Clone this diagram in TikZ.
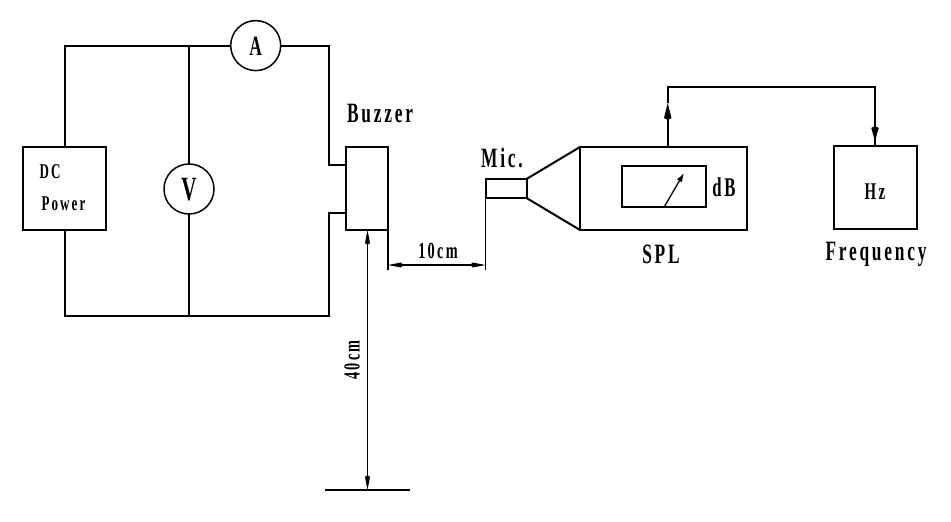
\documentclass[tikz,border=0pt]{standalone}
\usepackage{fontspec}
\usetikzlibrary{arrows.meta}
\newfontfamily\cadfont[LetterSpace=16]{Liberation Serif Bold}
\newcommand{\cadtext}[3][.62]{\scalebox{#1}[1]{\fontsize{#2}{#2}\cadfont #3}}
\tikzset{
  x=1pt,y=-1pt,
  wire/.style={line width=2pt,line join=miter},
  thin line/.style={line width=1.2pt},
  box/.style={draw,line width=2pt,inner sep=0pt,outer sep=0pt,minimum width=#1},
  meter/.style={draw,circle,line width=1.5pt,inner sep=0pt,outer sep=0pt,minimum size=50pt},
  lbl/.style={inner sep=0pt},
  head/.style={-{Kite[length=#1,width=7.5pt,inset=2pt]}},
  dimtips/.style={{Kite[length=15pt,width=5pt,inset=2pt]}-{Kite[length=15pt,width=5pt,inset=2pt]}},
}
\begin{document}
\begin{tikzpicture}
\useasboundingbox (0,0) rectangle (951,522);
% boxes
\node[box=83pt,minimum height=83pt] (power) at (64.5,188.5) {};
\node[box=42pt,minimum height=83pt] (buzzer) at (367,188.5) {};
\node[box=41pt,minimum height=19pt] (mic) at (506,188.5) {};
\node[box=167pt,minimum height=83pt] (spl) at (663.5,188.5) {};
\node[box=84pt,minimum height=41pt] (gauge) at (664,186.5) {};
\node[box=83pt,minimum height=83pt] (freq) at (875.5,187) {};
\node[meter] (A) at (255.7,45.6) {};
\node[meter] (V) at (189,189) {};
% named points
\coordinate (tl) at (power.north |- A);
\coordinate (tv) at (V |- A);
\coordinate (tr) at (329,45.6);
\coordinate (b1) at (329,165);
\coordinate (b2) at (329,212.7);
\coordinate (br) at (329,315.6);
\coordinate (bl) at (power.south |- br);
\coordinate (bv) at (V |- br);
% circuit
\draw[wire] (power.north) -- (tl) -- (A.west);
\draw[wire] (A.east) -- (tr) -- (b1) -- (b1 -| buzzer.west);
\draw[wire] (buzzer.west |- b2) -- (b2) -- (br) -- (bl) -- (power.south);
\draw[wire] (tv) -- (V.north);
\draw[wire] (V.south) -- (bv);
% horn
\draw[wire] (mic.north east) -- (spl.north west);
\draw[wire] (mic.south east) -- (spl.south west);
% gauge needle
\coordinate (needle) at (664.3,206.7);
\coordinate (needletip) at (684,173);
\draw[line width=1.3pt,-{Latex[length=9pt,width=6pt]}] (needle) -- (needletip);
% signal line
\coordinate (s0) at (667.7,146.7);
\coordinate (s1) at (667.7,103);
\coordinate (s2) at (667.7,86.7);
\coordinate (s3) at (875,86.7);
\coordinate (s4) at (875,141);
\coordinate (s5) at (875,145.5);
\draw[wire,head=17pt] (s0) -- (s1);
\draw[wire] (s1) -- (s2) -- (s3) -- (s4);
\draw[wire,head=15pt] (s3) -- (s4);
\draw[wire] (s4) -- (s5);
% dimension 10cm
\coordinate (d1) at (buzzer.south east);
\coordinate (d2) at (mic.south west);
\coordinate (d1b) at (d1 |- 0,270);
\coordinate (d2b) at (d2 |- 0,270);
\coordinate (d1m) at (d1 |- 0,265);
\coordinate (d2m) at (d2 |- 0,265);
\draw[thin line] (d1) -- (d1b);
\draw[thin line] (d2) -- (d2b);
\draw[thin line,dimtips] (d1m) -- (d2m);
% dimension 40cm and ground
\coordinate (g1) at (325,490);
\coordinate (g2) at (410,490);
\coordinate (gm) at (367.5,490);
\coordinate (bm) at (367.5,230);
\draw[line width=2pt] (g1) -- (g2);
\draw[thin line,dimtips] (bm) -- (gm);
% labels
\node[lbl] (tA) at (255.7,46) {\cadtext{28}{A}};
\node[lbl] (tV) at (189,190) {\cadtext{34}{V}};
\node[lbl] (tDC) at (50,172) {\cadtext{21}{DC}};
\node[lbl] (tPower) at (63.5,204) {\cadtext{21}{Power}};
\node[lbl] (tBuzzer) at (380,114) {\cadtext{28}{Buzzer}};
\node[lbl] (tMic) at (502,158) {\cadtext{28}{Mic.}};
\node[lbl] (t10) at (438,251) {\cadtext{23}{10cm}};
\node[lbl] (t40) at (352,360) {\rotatebox{90}{\cadtext{23}{40cm}}};
\node[lbl] (tdB) at (724,187) {\cadtext{27}{dB}};
\node[lbl] (tSPL) at (661,254) {\cadtext{28}{SPL}};
\node[lbl] (tHz) at (875,192) {\cadtext{24}{Hz}};
\node[lbl] (tFreq) at (876,254) {\cadtext{28}{Frequency}};
\end{tikzpicture}
\end{document}
